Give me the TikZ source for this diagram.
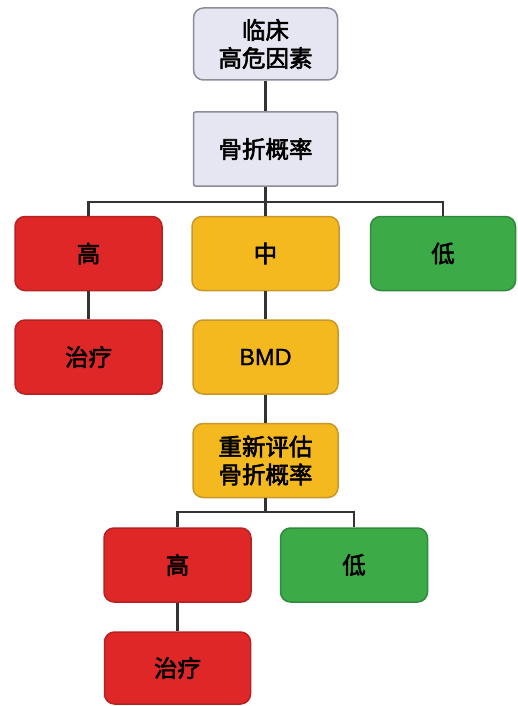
\documentclass[tikz,border=0pt]{standalone}
\usepackage{fontspec}
\setmainfont{Noto Sans CJK SC}[RawFeature={embolden=2.5}]
\newfontfamily\latinf{Liberation Sans}[RawFeature={embolden=1.2}]
\definecolor{lav}{HTML}{E6E6F2}
\definecolor{lavb}{HTML}{8C8C99}
\definecolor{rd}{HTML}{E02727}
\definecolor{rdb}{HTML}{B52222}
\definecolor{yl}{HTML}{F3B91F}
\definecolor{ylb}{HTML}{C9972A}
\definecolor{gr}{HTML}{3DAA48}
\definecolor{grb}{HTML}{2F8A3B}
\definecolor{ln}{HTML}{333333}
\begin{document}
\begin{tikzpicture}[x=1pt,y=-1pt,
  box/.style={draw, line width=1.5pt, rounded corners=10pt, minimum width=147pt, minimum height=74pt, align=center, inner sep=0pt, font=\fontsize{23.5}{28}\selectfont, text=black},
  lavbox/.style={box, fill=lav, draw=lavb, minimum width=144pt},
  redbox/.style={box, fill=rd, draw=rdb},
  ylbox/.style={box, fill=yl, draw=ylb},
  grbox/.style={box, fill=gr, draw=grb},
  conn/.style={draw=ln, line width=2.5pt}]
\fill[white] (0,0) rectangle (517,706);
\useasboundingbox (0,0) rectangle (517,706);
\node[lavbox, minimum height=72pt] (top) at (265.5,44) {临床\\高危因素};
\node[lavbox, rounded corners=2pt] (prob) at (265.5,149) {骨折概率};
\node[redbox] (h1) at (88.5,253.5) {高};
\node[ylbox] (m1) at (265.5,253.5) {中};
\node[grbox, minimum width=145pt] (l1) at (443,253.5) {低};
\node[redbox] (t1) at (88.5,357) {治疗};
\node[ylbox, minimum width=145pt] (bmd) at (265.5,357) {\latinf BMD};
\node[ylbox, minimum width=145pt] (re) at (265.5,460.5) {重新评估\\骨折概率};
\node[redbox] (h2) at (177.5,565) {高};
\node[grbox] (l2) at (354,565) {低};
\node[redbox, minimum width=146pt, minimum height=72pt] (t2) at (177.5,668) {治疗};
\coordinate (j1) at (265.5,202);
\coordinate (j2) at (265.5,512);
\draw[conn] (top.south) -- (prob.north);
\draw[conn] (prob.south) -- (j1);
\draw[conn] (h1.north) |- (j1) -| (l1.north);
\draw[conn] (j1) -- (m1.north);
\draw[conn] (h1.south) -- (t1.north);
\draw[conn] (m1.south) -- (bmd.north);
\draw[conn] (bmd.south) -- (re.north);
\draw[conn] (re.south) -- (j2);
\draw[conn] (h2.north) |- (j2) -| (l2.north);
\draw[conn] (h2.south) -- (t2.north);
\end{tikzpicture}
\end{document}
